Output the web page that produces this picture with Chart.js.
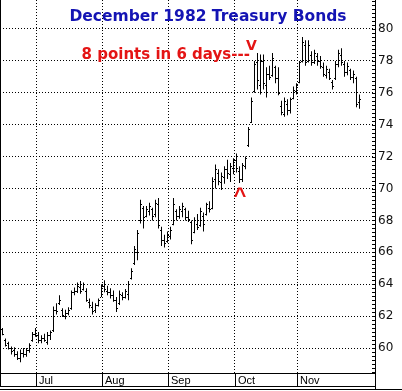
<!DOCTYPE html>
<html>
<head>
<meta charset="utf-8">
<script src="https://cdn.jsdelivr.net/npm/chart.js@4.4.1/dist/chart.umd.min.js"></script>
<style>
  body { margin: 0; background: #fff; }
  canvas { display: block; }
</style>
</head>
<body>
<canvas id="myChart" width="402" height="391"></canvas>
<script>
// December 1982 T-bond futures, one bar per trading day (mid June -> late Nov 1982)
var highs = [
  61.25, 60.6, 60.4, 60.1, 60.05, 59.8, 59.9, 60.0, 60.0, 60.3,
  61.0, 61.25, 61.0, 60.8, 60.9, 61.0, 61.1, 62.6, 62.8, 63.3,
  62.5, 62.4, 62.55, 63.6, 63.8, 64.1, 64.2, 64.1, 63.75, 63.1,
  62.9, 62.8, 63.1, 64.0, 64.25, 63.9, 63.75, 63.6, 63.2, 63.6,
  63.5, 63.7, 64.2, 65.0, 66.4, 67.4, 69.3, 68.9, 68.9, 69.1,
  68.8, 69.3, 69.4, 67.6, 67.1, 67.3, 67.6, 69.4, 68.7, 68.9,
  69.1, 68.8, 68.6, 68.0, 68.2, 68.4, 68.8, 68.5, 69.1, 69.2,
  70.7, 71.5, 71.2, 71.0, 71.4, 71.8, 71.6, 71.9, 72.2, 71.4,
  71.6, 72.0, 73.85, 75.7, 78.0, 78.5, 78.4, 78.4, 77.6, 77.7,
  78.5, 77.7, 77.6, 75.5, 75.7, 75.6, 75.7, 76.4, 76.6, 78.0,
  79.5, 79.3, 79.3, 78.6, 78.7, 78.5, 78.3, 77.9, 77.7, 77.5,
  76.8, 78.0, 78.7, 78.8, 78.0, 77.9, 77.5, 77.4, 77.0, 75.9
];
var lows = [
  60.8, 60.1, 59.9, 59.6, 59.45, 59.25, 59.1, 59.4, 59.45, 59.7,
  60.4, 60.7, 60.3, 60.3, 60.4, 60.2, 60.5, 61.0, 62.1, 62.7,
  61.95, 61.8, 62.05, 62.4, 63.3, 63.45, 63.4, 63.6, 62.9, 62.5,
  62.1, 62.2, 62.6, 63.2, 63.5, 63.3, 63.1, 62.9, 62.25, 62.7,
  63.0, 63.1, 63.0, 64.3, 65.2, 65.5, 67.8, 67.5, 68.2, 68.3,
  68.0, 68.2, 67.5, 66.4, 66.3, 66.6, 66.8, 67.7, 68.0, 68.1,
  68.2, 68.0, 67.9, 66.5, 67.2, 67.4, 67.6, 67.3, 68.3, 68.5,
  68.7, 70.0, 70.2, 69.9, 70.3, 70.6, 70.4, 70.9, 71.0, 70.35,
  70.4, 71.2, 72.6, 74.1, 76.0, 76.2, 75.9, 76.2, 75.7, 76.8,
  77.0, 76.6, 75.85, 74.6, 74.5, 74.6, 74.7, 75.6, 75.9, 76.6,
  77.9, 77.7, 77.9, 77.7, 77.8, 77.7, 77.5, 77.0, 76.9, 76.8,
  76.2, 76.8, 77.6, 77.7, 77.0, 77.1, 76.8, 76.6, 75.1, 75.0
];
var opens = [
  61.2, 60.5, 60.3, 60.0, 59.9, 59.6, 59.4, 59.7, 59.6, 59.9,
  60.5, 60.9, 60.8, 60.5, 60.6, 60.4, 60.8, 61.1, 62.4, 62.8,
  62.4, 62.0, 62.2, 62.5, 63.5, 63.6, 63.8, 63.7, 63.6, 62.9,
  62.6, 62.4, 62.7, 63.2, 63.9, 63.6, 63.5, 63.3, 63.0, 62.8,
  63.3, 63.2, 63.4, 64.4, 65.3, 66.0, 68.0, 68.8, 68.3, 68.6,
  68.7, 68.4, 69.0, 67.4, 66.8, 66.7, 67.0, 67.8, 68.6, 68.3,
  68.6, 68.7, 68.2, 67.9, 67.3, 67.8, 67.7, 68.3, 68.4, 68.8,
  68.8, 70.6, 71.0, 70.4, 70.7, 71.2, 70.9, 71.3, 71.8, 71.1,
  70.6, 71.4, 72.7, 74.2, 76.1, 77.9, 76.5, 78.0, 76.5, 77.2,
  77.1, 77.6, 76.9, 75.2, 74.7, 75.3, 74.9, 75.7, 76.1, 76.7,
  78.0, 79.0, 78.0, 78.4, 77.9, 78.3, 78.0, 77.6, 77.1, 77.3,
  76.7, 76.9, 77.8, 78.4, 77.8, 77.3, 77.4, 77.0, 76.9, 75.4
];
var closes = [
  60.9, 60.2, 60.0, 59.8, 59.6, 59.4, 59.7, 59.6, 59.9, 60.2,
  60.9, 60.8, 60.5, 60.6, 60.5, 60.8, 61.0, 62.4, 62.3, 63.0,
  62.1, 62.2, 62.4, 63.5, 63.6, 63.9, 63.6, 64.0, 63.0, 62.7,
  62.3, 62.7, 63.0, 63.9, 63.7, 63.5, 63.3, 63.0, 62.5, 63.4,
  63.2, 63.6, 64.0, 64.8, 66.2, 67.2, 69.0, 68.2, 68.7, 68.9,
  68.3, 69.1, 67.7, 66.8, 66.6, 67.1, 67.4, 69.0, 68.3, 68.7,
  68.9, 68.2, 68.1, 66.8, 68.0, 67.6, 68.6, 67.8, 69.0, 68.7,
  70.5, 71.2, 70.5, 70.8, 71.2, 71.0, 71.4, 71.8, 71.3, 70.6,
  71.5, 71.9, 73.7, 75.5, 77.8, 76.8, 78.0, 76.6, 77.2, 77.0,
  78.2, 76.9, 76.0, 74.8, 75.5, 74.9, 75.6, 76.2, 76.5, 77.9,
  79.2, 77.9, 79.0, 77.9, 78.5, 78.0, 77.7, 77.2, 77.5, 76.9,
  76.4, 77.8, 78.5, 77.9, 77.3, 77.7, 77.0, 77.2, 75.3, 75.6
];

// month boundaries, in bar slots (3 px each) from the left edge
var monthNames = ['Jul', 'Aug', 'Sep', 'Oct', 'Nov'];
var monthStarts = [12, 34, 56, 78.33, 99];
var priceTicks = [60, 62, 64, 66, 68, 70, 72, 74, 76, 78, 80];

var titleText = 'December 1982 Treasury Bonds';
var noteText = '8 points in 6 days---';

var barData = highs.map(function(h, i) {
    return { x: i + 0.8333, y: [lows[i], h] };
});

var ohlcTicks = {
    id: 'ohlcTicks',
    afterDatasetsDraw: function(chart) {
        var xs = chart.scales.x, ys = chart.scales.y, ctx = chart.ctx;
        ctx.save();
        ctx.fillStyle = '#000';
        for (var i = 0; i < highs.length; i++) {
            var x = Math.round(xs.getPixelForValue(i + 0.8333) - 0.5);
            ctx.fillRect(x - 1, Math.round(ys.getPixelForValue(opens[i])), 1, 1);
            ctx.fillRect(x + 1, Math.round(ys.getPixelForValue(closes[i])), 1, 1);
        }
        ctx.restore();
    }
};

var frame = {
    id: 'frame',
    afterDraw: function(chart) {
        var ctx = chart.ctx, a = chart.chartArea;
        var xs = chart.scales.x, ys = chart.scales.y;
        ctx.save();
        ctx.fillStyle = '#000';
        ctx.fillRect(0, 0, 1, a.bottom + 13);
        ctx.fillRect(0, a.bottom, a.right + 1, 1);
        ctx.fillRect(0, a.bottom + 13, a.right + 1, 1);
        ctx.fillRect(0, a.bottom + 16, chart.width, 1);
        ctx.fillRect(a.right, 0, 1, a.bottom + 17);
        // month separators in the date band
        monthStarts.forEach(function(v) {
            ctx.fillRect(Math.round(xs.getPixelForValue(v)), a.bottom, 1, 13);
        });
        // quarter point ticks on the price axis
        for (var v = 58.5; v < ys.max; v += 0.25) {
            ctx.fillRect(a.right - 3, Math.round(ys.getPixelForValue(v)), 3, 1);
        }
        // notes
        ctx.textBaseline = 'alphabetic';
        ctx.textAlign = 'center';
        ctx.fillStyle = '#1414b4';
        ctx.font = 'bold 15.5px "DejaVu Sans"';
        ctx.fillText(titleText, 208, 21);
        ctx.fillStyle = '#e41414';
        ctx.font = 'bold 15px "DejaVu Sans"';
        ctx.textAlign = 'right';
        ctx.fillText(noteText, xs.getPixelForValue(83.3), ys.getPixelForValue(78.12));
        ctx.textAlign = 'center';
        ctx.font = 'bold 14px "DejaVu Sans"';
        ctx.fillText('V', xs.getPixelForValue(83.8), ys.getPixelForValue(78.7));
        ctx.font = 'bold 22px "Liberation Sans"';
        ctx.fillText('^', xs.getPixelForValue(80), ys.getPixelForValue(69.1));
        ctx.restore();
    }
};

var ctx = document.getElementById('myChart');

var graphique = new Chart(ctx.getContext('2d'), {
    type: 'bar',
    data: {
        datasets: [{
            data: barData,
            backgroundColor: '#000',
            borderWidth: 0,
            barThickness: 1,
            inflateAmount: 0,
            grouped: false
        }]
    },
    options: {
        responsive: false,
        animation: false,
        devicePixelRatio: 1,
        layout: { padding: { left: 0, right: 0, top: 0, bottom: 5 } },
        plugins: { legend: { display: false }, tooltip: { enabled: false } },
        scales: {
            x: {
                type: 'linear',
                min: 0,
                max: 125,
                offset: false,
                afterBuildTicks: function(axis) {
                    axis.ticks = monthStarts.map(function(v) { return { value: v }; });
                },
                afterFit: function(axis) {
                    axis.height = 13;
                    axis.paddingLeft = 0;
                    axis.paddingRight = 0;
                },
                ticks: {
                    autoSkip: false,
                    maxRotation: 0,
                    align: 'start',
                    labelOffset: 3,
                    padding: 1,
                    color: '#000',
                    font: { family: '"Liberation Sans"', size: 11 },
                    callback: function(value, index) { return monthNames[index]; }
                },
                grid: { color: '#000', drawTicks: false, offset: false },
                border: { display: false, dash: [1, 2] }
            },
            y: {
                position: 'right',
                min: 58.433,
                max: 81.818,
                afterBuildTicks: function(axis) {
                    axis.ticks = priceTicks.map(function(v) { return { value: v }; });
                },
                afterFit: function(axis) {
                    axis.width = 27;
                    axis.paddingTop = 0;
                    axis.paddingBottom = 0;
                },
                ticks: {
                    padding: 3,
                    color: '#111',
                    font: { family: '"DejaVu Sans"', size: 12 }
                },
                grid: { color: '#000', drawTicks: false },
                border: { display: false, dash: [1, 2] }
            }
        }
    },
    plugins: [ohlcTicks, frame]
});
</script>
</body>
</html>
